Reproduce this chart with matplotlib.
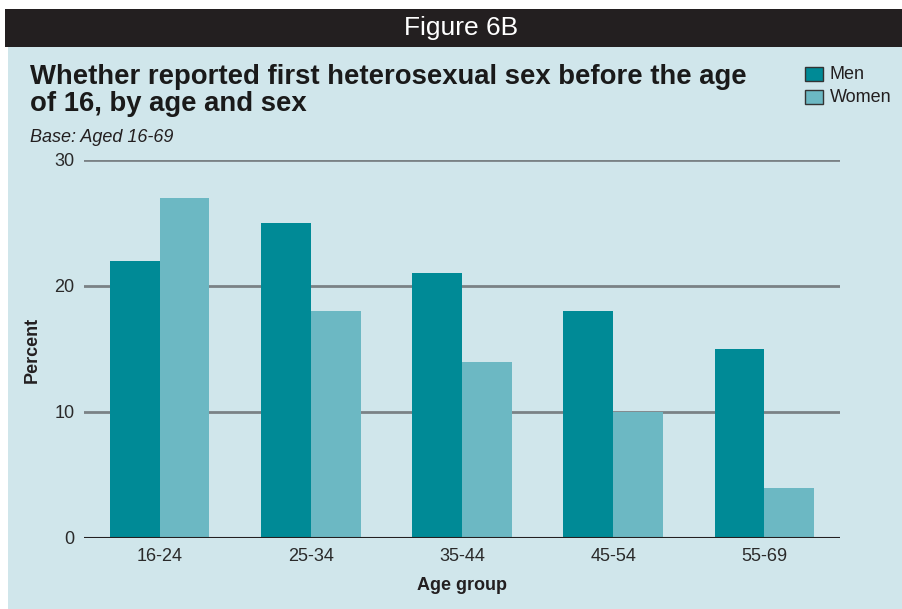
import matplotlib
matplotlib.use("Agg")
import matplotlib.pyplot as plt
import numpy as np
from matplotlib.patches import Rectangle

categories = ["16-24", "25-34", "35-44", "45-54", "55-69"]
men = [22, 25, 21, 18, 15]
women = [27, 18, 14, 10, 4]
yticks = [0, 10, 20, 30]

W, H = 903, 609
fig = plt.figure(figsize=(W / 100, H / 100), dpi=100)
fig.patch.set_facecolor("white")

bg = "#d0e6eb"
men_c = "#008a96"
women_c = "#6cb8c3"

# panel and header
fig.patches.append(Rectangle((8 / W, 0), 1 - 8 / W, 1 - 46 / H, transform=fig.transFigure,
                             facecolor=bg, edgecolor="none", zorder=-10))
fig.patches.append(Rectangle((5 / W, 1 - 46.5 / H), 1 - 5 / W, 37.5 / H, transform=fig.transFigure,
                             facecolor="#231f20", edgecolor="none", zorder=-10))
fig.text(461 / W, 1 - 28 / H, "Figure 6B", color="white", fontsize=19,
         family="Liberation Sans", ha="center", va="center")

fig.text(30 / W, 1 - 77 / H, "Whether reported first heterosexual sex before the age",
         fontsize=19.8, fontweight="heavy", family="Liberation Sans", color="#1a1a1a",
         ha="left", va="center")
fig.text(30 / W, 1 - 104 / H, "of 16, by age and sex",
         fontsize=19.8, fontweight="heavy", family="Liberation Sans", color="#1a1a1a",
         ha="left", va="center")
fig.text(30 / W, 1 - 137 / H, "Base: Aged 16-69", fontsize=13, style="italic",
         family="Liberation Sans", color="#231f20", ha="left", va="center")

ax = fig.add_axes([84 / W, 71 / H, 756 / W, 378 / H])
ax.set_facecolor("none")
x = np.arange(len(categories))
bw = 0.33
ax.bar(x - bw / 2, men, width=bw, color=men_c, zorder=3, label="Men")
ax.bar(x + bw / 2, women, width=bw, color=women_c, zorder=3, label="Women")
ax.set_xlim(-0.5, len(categories) - 0.5)
ax.set_ylim(0, 30)
ax.set_yticks(yticks)
for t in yticks[1:]:
    ax.axhline(t, color="#7a8285", lw=2, zorder=1)
ax.axhline(0, color="#231f20", lw=1.5, zorder=4)
for s in ax.spines.values():
    s.set_visible(False)
ax.tick_params(axis="both", length=0, labelsize=13, colors="#2a2a2a", pad=7)
ax.tick_params(axis="y", pad=7)
ax.set_xticks(x)
ax.set_xticklabels(categories)
for lbl in ax.get_xticklabels() + ax.get_yticklabels():
    lbl.set_family("Liberation Sans")
ax.set_xlabel("Age group", fontsize=13, fontweight="bold", family="Liberation Sans",
              color="#231f20", labelpad=9)
fig.text(32 / W, 1 - 350 / H, "Percent", rotation=90, fontsize=13, fontweight="bold",
         family="Liberation Sans", color="#231f20", ha="center", va="center")

# legend
for i, (lab, c) in enumerate([("Men", men_c), ("Women", women_c)]):
    y0 = 67 + i * 23
    fig.patches.append(Rectangle((805 / W, 1 - (y0 + 14) / H), 18 / W, 14 / H, transform=fig.transFigure,
                                 facecolor=c, edgecolor="#333333", lw=1))
    fig.text(830 / W, 1 - (y0 + 7.5) / H, lab, fontsize=13, family="Liberation Sans",
             color="#231f20", ha="left", va="center")

fig.savefig("out.png", dpi=100, facecolor="white")
